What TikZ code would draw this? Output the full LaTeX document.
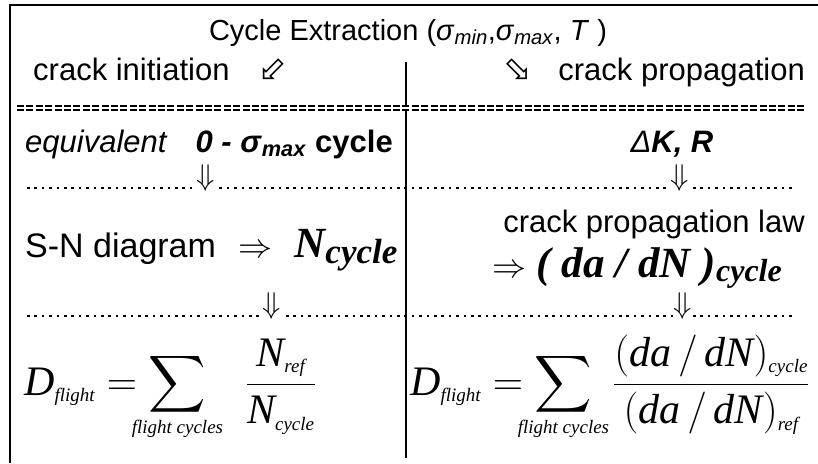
\RequirePackage{fix-cm}
\documentclass[tikz,border=0pt]{standalone}
\usepackage{mathtools}
\usepackage{fontspec}
\setmainfont{Liberation Sans}
\newfontfamily\tnrfont{Liberation Serif}
\newfontfamily\symfont{DejaVu Sans}
\usetikzlibrary{positioning}

% small italic index and large sum sign in the damage sums
\newcommand{\eqsub}[1]{\text{\fontsize{19}{21}\selectfont\itshape #1}}
\newcommand{\bigsum}{\mathop{\vcenter{\hbox{\scalebox{1.6}{$\displaystyle\sum$}}}}\limits}

\tikzset{
    txt/.style={inner sep=0pt, font=\fontsize{31}{36}\selectfont},
    hollow/.style={inner sep=0pt, font=\symfont\fontsize{34}{38}\selectfont},
    down/.style={inner sep=0pt, fill=white, font=\fontsize{30}{34}\selectfont},
    bigN/.style={inner sep=0pt, font=\tnrfont\bfseries\itshape\fontsize{43}{47}\selectfont},
    eqn/.style={inner sep=0pt, font=\tnrfont\fontsize{42}{46}\selectfont},
    eqrow/.style={double, double distance=2.8pt, line width=1.2pt, dash pattern=on 7pt off 2.4pt},
    dotrow/.style={line width=2.6pt, dash pattern=on 2.6pt off 4.8pt}
}

\begin{document}
\begin{tikzpicture}[x=1pt, y=-1pt]
    \useasboundingbox (0,0) rectangle (818,463);

    % frame and column divider
    \draw[line width=2.5pt] (10,463) -- (10,5) -- (818,5);
    \coordinate (divtop) at (406,62);
    \coordinate (divbot) at (406,458);
    \draw[line width=1.4pt] (divtop) -- (divbot);

    % heading
    \node[txt, font=\fontsize{29}{34}\selectfont, anchor=base] (title) at (408,40)
        {Cycle Extraction (\textit{σ}\textsubscript{\textit{min}},\textit{σ}\textsubscript{\textit{max}}, \textit{T} )};
    \node[txt, anchor=base west] (init) at (33,80) {crack initiation};
    \node[hollow, anchor=base west] (initarr) at ([xshift=28pt]init.base east) {⬃};
    \node[txt, anchor=base east] (prop) at (805,80) {crack propagation};
    \node[hollow, anchor=base east] (proparr) at ([xshift=-26pt]prop.base west) {⬂};

    \coordinate (eqL) at (17,108);
    \coordinate (eqR) at (806,108);
    \draw[eqrow] (eqL) -- (eqR);

    % first step
    \node[txt, anchor=base west] (equiv) at (25,152)
        {\textit{equivalent}\hspace{28pt}\textbf{\textit{0 -} \textit{σ}\textsubscript{\textit{max}} cycle}};
    \node[txt, anchor=base] (dkr) at (672,152) {\textit{Δ}\textbf{\textit{K, R}}};

    \coordinate (dotA) at (27,188);
    \coordinate (dotB) at (792,188);
    \draw[dotrow] (dotA) -- (dotB);
    \node[down, anchor=south] (dn1) at (206,192) {$\Downarrow$};
    \node[down, anchor=south] (dn2) at (680,192) {$\Downarrow$};

    % second step
    \node[txt, anchor=base east] (law) at (805,232) {crack propagation law};
    \node[txt, font=\fontsize{34}{38}\selectfont, anchor=base west] (sn) at (25,257)
        {S-N diagram\hspace{22pt}$\Rightarrow$};
    \node[bigN, anchor=base west] (ncyc) at ([xshift=22pt]sn.base east)
        {N\raisebox{-6pt}{\fontsize{35}{38}\selectfont cycle}};
    \node[bigN, anchor=base east] (dadn) at (782,277)
        {{\normalfont\fontsize{34}{36}\selectfont$\Rightarrow$} ( da / dN )\raisebox{-4pt}{\fontsize{32}{34}\selectfont cycle}};

    \coordinate (dotC) at (27,316);
    \coordinate (dotD) at (792,316);
    \draw[dotrow] (dotC) -- (dotD);
    \node[down, anchor=south] (dn3) at (272,320) {$\Downarrow$};
    \node[down, anchor=south] (dn4) at (683,320) {$\Downarrow$};

    % damage sums
    \node[eqn, anchor=base west] (dmgL) at (24,395)
        {$\displaystyle\textit{D}_{\eqsub{flight}} = \bigsum_{\mathclap{\eqsub{flight cycles}}} \mkern14mu \frac{\textit{N}_{\eqsub{ref}}}{\textit{N}_{\eqsub{cycle}}}$};
    \node[eqn, anchor=base west] (dmgR) at (410,395)
        {$\displaystyle\textit{D}_{\eqsub{flight}} = \bigsum_{\mathclap{\eqsub{flight cycles}}} \mkern6mu \frac{(\textit{da}\mkern3mu/\mkern3mu\textit{dN})_{\eqsub{cycle}}}{(\textit{da}\mkern3mu/\mkern3mu\textit{dN})_{\eqsub{ref}}}$};
\end{tikzpicture}
\end{document}
